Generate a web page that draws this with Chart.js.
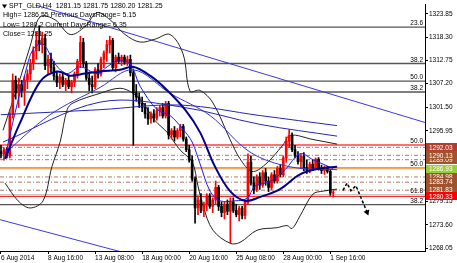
<!DOCTYPE html>
<html>
<head>
<meta charset="utf-8">
<script src="https://cdn.jsdelivr.net/npm/chart.js@4.4.1/dist/chart.umd.min.js"></script>
<style>
  html, body { margin: 0; padding: 0; background: #fff; }
</style>
</head>
<body>
<canvas id="chart" width="457" height="263"></canvas>
<script>
// H4 candles, one per bar index (0 = 6 Aug 00:00)
const openP = [1291,1290.5,1291.5,1290,1300,1308,1305,1307,1305.5,1308,1309.5,1312,1315,1317.5,1316.5,1318,1311.5,1313,1311,1309,
  1307.5,1308.8,1307,1308,1306.5,1307.5,1309.5,1312.5,1317,1312,1308.5,1307,1306.5,1310.5,1309.5,1313,1314.5,1316.5,1317.5,1311,
  1313.5,1312.5,1313.5,1312.3,1313,1309.8,1305,1304,1302.5,1301.5,1300,1298.8,1300,1299,1300.8,1301.5,1299.5,1302.5,1295,1296,
  1294.5,1296,1297,1294,1291.5,1289,1284.5,1277.6,1279.5,1277,1278.5,1280.5,1278,1279.5,1282.5,1278,1276.5,1278.5,1276.8,1279,
  1277,1276,1277.5,1275.8,1279,1288.5,1283.5,1282,1285,1283,1286,1284,1282.5,1285.5,1284,1287,1285.5,1289.5,1293.5,1294.8,
  1291.5,1290,1288.6,1290,1287.2,1286.5,1288,1287,1289.2,1287,1286.5,1287.1,1286.3,1281.15];
const highP = [1292.5,1292,1292,1301,1309.5,1309,1308.5,1308,1309,1310.5,1313,1316,1319.5,1321,1319.5,1319,1314,1314.5,1312.5,1310,
  1309.5,1310,1308.5,1309,1308,1310,1313,1318.5,1318,1312.5,1310,1309,1311,1312,1313.5,1315,1317.5,1318.5,1318,1314,
  1314.5,1314,1314,1313.8,1314,1310.5,1307,1305,1304,1302.5,1301.5,1300.5,1301,1301.5,1302,1302.5,1303,1303,1296.5,1297,
  1296.5,1297.5,1297.5,1294.5,1292.5,1290,1285,1280.5,1281,1279,1281,1281,1280,1284,1283,1279,1279,1279.5,1280,1280,
  1278.5,1278,1278,1279.5,1290.5,1290,1285,1285.5,1286,1286.5,1287,1285,1286,1286.5,1287.5,1288,1290,1294.5,1296.2,1295.5,
  1292.5,1291,1290.5,1290.8,1289,1288.5,1289,1289.5,1289.6,1287.8,1287.6,1287.5,1286.8,1281.75];
const lowP = [1289.5,1289,1289.5,1289.5,1299,1303.5,1301.5,1304,1302,1306,1308,1310.5,1313,1315,1314.5,1310.5,1309.5,1310,1308,1306.5,
  1306,1306.5,1305.5,1306,1305,1306.5,1308.5,1311,1311,1308,1305.5,1305,1306,1308.5,1309,1311,1312.5,1314.5,1310.5,1310,
  1312,1311.5,1311.8,1311.5,1309,1292.5,1303,1301.5,1300.5,1299,1297.5,1297.8,1298,1298.5,1299.5,1299,1299,1294,1294,1293.5,
  1294,1294.5,1293.5,1291,1288.5,1284,1274,1276,1276.5,1275.5,1277,1277.5,1276.5,1278.5,1277,1275.5,1275,1276,1269.3,1276.5,
  1275.5,1274.5,1275,1275,1278.5,1283,1281,1281.5,1282,1282.5,1283,1281.5,1282,1283.5,1283.5,1285,1285,1288.5,1292,1291,
  1289.5,1288,1287,1286.5,1285.8,1286,1286.5,1286.8,1286.6,1285.8,1285.6,1285.9,1280.6,1280.2];
const closeP = [1290.5,1291.5,1290,1300,1308,1305,1307,1305.5,1308,1309.5,1312,1315,1317.5,1316.5,1318,1311.5,1313,1311,1309,1307.5,
  1308.8,1307,1308,1306.5,1307.5,1309.5,1312.5,1317,1312,1308.5,1307,1306.5,1310.5,1309.5,1313,1314.5,1316.5,1317.5,1311,1313.5,
  1312.5,1313.5,1312.3,1313,1309.8,1305,1304,1302.5,1301.5,1300,1298.8,1300,1299,1300.8,1301.5,1299.5,1302.5,1295,1296,1294.5,
  1296,1297,1294,1291.5,1289,1284.5,1277.6,1279.5,1277,1278.5,1280.5,1278,1279.5,1282.5,1278,1276.5,1278.5,1276.8,1279,1277,
  1276,1277.5,1275.8,1279,1288.5,1283.5,1282,1285,1283,1286,1284,1282.5,1285.5,1284,1287,1285.5,1289.5,1293.5,1294.8,1291.5,
  1290,1288.6,1290,1287.2,1286.5,1288,1287,1289.2,1287,1286.5,1287.1,1286.3,1281.15,1281.25];

// indicator lines, [bar, price] control points
const maThick = [[1.4,1289.3],[6.5,1297.9],[13.3,1307.7],[19,1310.1],[23.5,1309.1],[28.6,1309.6],[33.7,1310.1],[40.5,1310.5],
  [44.9,1311.2],[50.7,1309.1],[55.8,1306.1],[62.6,1301.0],[67.7,1295.6],[72.8,1287.4],[77.9,1281.6],[83,1279.3],[88.1,1280.2],
  [94.9,1282.1],[101.7,1285.6],[108.5,1287.0],[114.3,1287.4]];
const maFast = [[1.4,1289.8],[4.8,1300.3],[8.2,1309.6],[10.9,1315.4],[14.3,1316.6],[18.4,1311.9],[22.4,1309.6],[26.9,1311.2],
  [32.7,1309.6],[36.1,1311.2],[39.5,1312.6],[43.9,1311.9],[47.3,1306.6],[53.1,1301.0],[57.5,1299.6],[61.9,1296.3],[65,1293.3],
  [67.7,1288.1],[71.1,1281.6],[74.5,1279.3],[79.6,1279.3],[83.7,1279.9],[86.4,1282.8],[91.5,1283.9],[96.6,1286.7],[101.7,1290.5],
  [106.1,1289.1],[112.9,1287.0]];
const maMid = [[0.7,1290.2],[16.7,1299.8],[33.7,1306.3],[44.9,1310.5],[57.5,1304.9],[71.1,1299.6],[84.7,1290.9],[98.3,1287.4],[114.3,1286.7]];
const maSlow1 = [[0,1299.8],[33.7,1301.0],[60.9,1302.1],[88.1,1299.6],[114.3,1297.2]];
const maSlow2 = [[0.7,1293.3],[33.7,1302.8],[60.9,1301.7],[88.1,1297.5],[114.3,1294.7]];
const bandUpper = [[0.7,1296.1],[6.5,1308.4],[9.9,1316.1],[13.3,1323.1],[18.4,1322.4],[23.5,1318.9],[28.6,1320.8],[32.7,1324.1],
  [37.1,1322.4],[42.2,1318.9],[47.3,1317.1],[52.4,1317.8],[57.5,1318.9],[61.9,1314.3],[64.3,1305.4],[67.7,1305.6],[72.1,1302.6],
  [77.9,1293.9],[81.3,1289.3],[85.4,1286.3],[89.8,1287.9],[95.9,1292.6],[98.3,1294.9],[106.1,1293.9],[114.3,1292.8]];
const bandLower = [[1.4,1283.5],[5.8,1279.3],[9.9,1277.6],[14.3,1279.3],[17.3,1287.4],[20.1,1293.3],[22.5,1301.0],[24.5,1302.6],
  [33.7,1304.9],[40.5,1306.1],[44.9,1304.9],[48.3,1302.6],[52.4,1298.4],[56.5,1295.6],[60.9,1291.4],[65,1288.6],[67,1282.8],
  [68.7,1278.1],[72.1,1272.3],[77.9,1269.2],[81.3,1269.4],[87.1,1272.3],[93.9,1272.9],[97.3,1273.4],[99,1272.7],[101.7,1275.7],
  [106.1,1280.9],[109.5,1281.6],[114.3,1282.1]];
const trendUpper = [[11.6,1325.95],[144.2,1297.95]];
const trendLower = [[-0.3,1274.8],[42.2,1266.9]];
const forecastPath = [[116.3,1281.8],[117.7,1283.5],[119,1281.7],[120.7,1282.9],[124.5,1276.6]];

// horizontal levels
const fibPrices = [1320.65, 1312.0, 1307.8, 1305.2, 1292.6, 1287.2, 1280.7, 1278.4];
const fibLabels = ['23.6', '38.2', '50.0', '38.2', '50.0', '50.0', '61.8', '38.2'];
const levelPrices = [1292.03, 1290.13, 1289.09, 1286.93, 1284.98, 1283.74, 1281.83, 1280.33];

// axes
const priceTicks = [1323.85, 1318.30, 1312.75, 1307.20, 1301.50, 1295.95, 1290.40, 1284.85, 1279.15, 1273.60, 1268.05];
const tickBars = [0, 16, 32, 48, 64, 80, 96, 112];
const tickLabels = ['6 Aug 2014', '8 Aug 16:00', '13 Aug 08:00', '18 Aug 00:00', '20 Aug 16:00', '25 Aug 08:00', '28 Aug 00:00', '1 Sep 16:00'];

const headerLines = [
  'SPT_GLD,H4  1281.15 1281.75 1280.20 1281.25',
  'High= 1286.55 Previous DaysRange= 5.15',
  'Low= 1280.2 Current DaysRange= 6.35',
  'Close= 1281.25'
];

const FONT = "'Liberation Sans', Arial, sans-serif";
const xMin = -0.34, xMax = 144.2;
const yMin = 1267.35, yMax = 1325.95;

const pts = arr => arr.map(p => ({ x: p[0], y: p[1] }));
const flat = p => [{ x: xMin, y: p }, { x: xMax, y: p }];
const isBull = k => closeP[k] >= openP[k];
const candleColors = openP.map((o, k) => isBull(k) ? '#ff0000' : '#000000');

function lineSet(data, color, width, order, extra) {
  return Object.assign({
    type: 'line', data: data, borderColor: color, borderWidth: width,
    pointRadius: 0, tension: 0.35, fill: false, order: order
  }, extra || {});
}

const datasets = [];

// dash-dot levels
levelPrices.forEach((p, k) => {
  if (k === 3 || k === 7) return; // drawn solid below
  datasets.push(lineSet(flat(p), '#b07565', 1, 30, { tension: 0, borderDash: [4, 2, 1, 2] }));
});
datasets.push(lineSet(flat(levelPrices[7]), '#ff2a2a', 1.2, 29, { tension: 0 }));
datasets.push(lineSet(flat(levelPrices[3]), '#ff8c1a', 1.2, 29, { tension: 0 }));

// fibonacci levels
fibPrices.forEach((p, k) => {
  let c = '#555555';
  if (k === 4) c = '#ff4040';
  if (k === 5 || k === 6) c = '#a0a0a0';
  datasets.push(lineSet(flat(p), c, k === 5 || k === 6 ? 1 : 1.4, 28, { tension: 0 }));
});

// channel lines
datasets.push(lineSet(pts(trendUpper), '#3a3ae0', 1, 20, { tension: 0 }));
datasets.push(lineSet(pts(trendLower), '#3a3ae0', 1, 20, { tension: 0 }));

// bollinger bands
datasets.push(lineSet(pts(bandUpper), '#222222', 1, 15));
datasets.push(lineSet(pts(bandLower), '#222222', 1, 15));

// candles: wick + body as floating bars
datasets.push({
  type: 'bar', grouped: false, order: 10, barThickness: 1,
  data: openP.map((o, k) => ({ x: k, y: [lowP[k], highP[k]] })),
  backgroundColor: candleColors, borderWidth: 0
});
datasets.push({
  type: 'bar', grouped: false, order: 9, barThickness: 2,
  data: openP.map((o, k) => ({ x: k, y: [Math.min(o, closeP[k]), Math.max(o, closeP[k])] })),
  backgroundColor: candleColors, borderWidth: 0
});

// moving averages
datasets.push(lineSet(pts(maSlow1), '#2525b5', 1, 6));
datasets.push(lineSet(pts(maSlow2), '#2525b5', 1, 6));
datasets.push(lineSet(pts(maMid), '#3535d5', 1, 5));
datasets.push(lineSet(pts(maFast), '#1a1aff', 1, 5));
datasets.push(lineSet(pts(maThick), '#00008b', 2, 4));

// forecast arrow
datasets.push(lineSet(pts(forecastPath), '#000000', 1.5, 1, {
  tension: 0, borderDash: [3, 2],
  pointRadius: forecastPath.map((p, k) => k === forecastPath.length - 1 ? 3.5 : 0),
  pointStyle: 'triangle', rotation: 158,
  pointBackgroundColor: '#000', pointBorderWidth: 0
}));

const overlays = {
  id: 'overlays',
  afterDatasetsDraw(chart) {
    const ctx = chart.ctx, y = chart.scales.y, area = chart.chartArea;
    ctx.save();
    ctx.font = '6.5px ' + FONT;
    ctx.fillStyle = '#000';
    ctx.textAlign = 'right';
    ctx.textBaseline = 'bottom';
    fibPrices.forEach((p, k) => {
      ctx.fillText(fibLabels[k], area.right - 2, y.getPixelForValue(p) - 0.5);
    });
    ctx.font = '7px ' + FONT;
    ctx.textAlign = 'left';
    ctx.textBaseline = 'middle';
    const rows = [6.5, 15.5, 25, 34.5];
    headerLines.forEach((t, k) => ctx.fillText(t, k === 0 ? 9 : 3, rows[k]));
    // small indicator mark before the symbol name
    ctx.beginPath();
    ctx.moveTo(2, 4.5); ctx.lineTo(7, 4.5); ctx.lineTo(4.5, 8.5); ctx.closePath();
    ctx.fill();
    ctx.restore();
  },
  afterDraw(chart) {
    const ctx = chart.ctx, y = chart.scales.y, area = chart.chartArea;
    ctx.save();
    ctx.font = '6.5px ' + FONT;
    ctx.textBaseline = 'middle';
    ctx.textAlign = 'left';
    const drawOrder = [2, 4, 0, 1, 3, 5, 6, 7];
    drawOrder.forEach(k => {
      const p = levelPrices[k];
      const py = y.getPixelForValue(p);
      let bg = '#a0522d';
      if (k === 0) bg = '#b0402e';
      if (k === 3) bg = '#9acd32';
      if (k === 7) bg = '#ff0000';
      ctx.fillStyle = bg;
      ctx.fillRect(area.right + 1, Math.round(py - 4), chart.width - area.right - 1, 8);
      ctx.fillStyle = '#fff';
      ctx.fillText(p.toFixed(2), area.right + 4, py + 0.5);
    });
    ctx.restore();
  }
};

new Chart(document.getElementById('chart'), {
  type: 'bar',
  data: { datasets: datasets },
  options: {
    responsive: false,
    animation: false,
    events: [],
    layout: { padding: 0, autoPadding: false },
    plugins: { legend: { display: false }, tooltip: { enabled: false } },
    scales: {
      x: {
        type: 'linear', min: xMin, max: xMax, offset: false,
        afterBuildTicks: s => { s.ticks = tickBars.map(v => ({ value: v })); },
        afterFit: s => { s.height = 12; },
        ticks: {
          autoSkip: false, maxRotation: 0, align: 'start', padding: 0,
          color: '#000', font: { family: FONT, size: 6.5 },
          callback: v => tickLabels[tickBars.indexOf(v)]
        },
        grid: { drawOnChartArea: false, offset: false, tickLength: 3, color: '#000' },
        border: { display: true, color: '#000' }
      },
      y: {
        type: 'linear', position: 'right', min: yMin, max: yMax,
        afterBuildTicks: s => { s.ticks = priceTicks.map(v => ({ value: v })); },
        afterFit: s => { s.width = 32; },
        ticks: {
          autoSkip: false, padding: 1, color: '#000',
          font: { family: FONT, size: 6.5 },
          callback: v => Number(v).toFixed(2)
        },
        grid: { drawOnChartArea: false, tickLength: 3, color: '#000' },
        border: { display: true, color: '#000' }
      }
    }
  },
  plugins: [overlays]
});
</script>
</body>
</html>
